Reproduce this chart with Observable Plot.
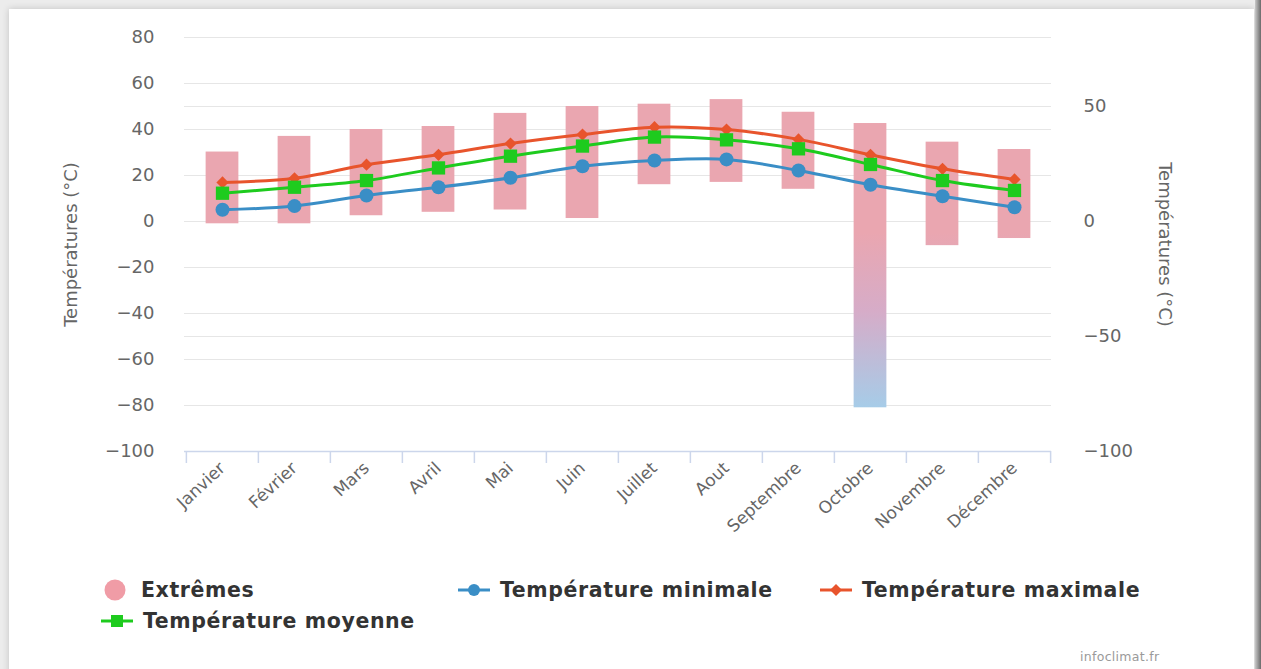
<!DOCTYPE html>
<html><head><meta charset="utf-8">
<script src="https://cdn.jsdelivr.net/npm/d3@7"></script>
<script src="https://cdn.jsdelivr.net/npm/@observablehq/plot@0.6"></script>
<style>
html,body{margin:0;padding:0;}
body{width:1261px;height:669px;overflow:hidden;background:#ececec;position:relative;font-family:"DejaVu Sans",sans-serif;}
#card{position:absolute;left:9px;top:9px;width:1245px;height:700px;background:#fff;box-shadow:0 0 7px rgba(0,0,0,0.18);}
#edge{position:absolute;right:0;top:0;width:6px;height:669px;background:linear-gradient(to right,#c8c8c8,#6a6a6a);}
#chart{position:absolute;left:0;top:0;}
.leg{position:absolute;font-weight:bold;font-size:20.5px;color:#333;letter-spacing:0.6px;white-space:nowrap;line-height:20px;}
.sym{position:absolute;}
#caption{position:absolute;left:1080px;top:649px;font-size:12.5px;color:#9a9a9a;letter-spacing:0.3px;}
</style>
</head><body>
<div id="card"></div>
<div id="edge"></div>
<div id="chart"></div>
<div id="legend"></div>
<div id="caption">infoclimat.fr</div>
<script>
const months = ["Janvier","Février","Mars","Avril","Mai","Juin","Juillet","Aout","Septembre","Octobre","Novembre","Décembre"];
const extremesLow  = [-1, -1, 2.5, 4, 5, 1.3, 16, 17, 14, -81, -10.5, -7.4];
const extremesHigh = [30.2, 37, 40, 41.3, 47, 50, 51, 53, 47.5, 42.6, 34.5, 31.3];
const tempMin = [5.1, 6.7, 11.3, 14.9, 19, 24, 26.5, 27, 22.2, 16, 11, 6.2];
const tempMax = [17, 18.8, 24.7, 29, 33.9, 37.8, 41, 40, 35.7, 29, 22.9, 18.3];
const tempMoy = [12.3, 14.9, 17.8, 23.3, 28.4, 32.8, 36.7, 35.5, 31.6, 24.8, 17.8, 13.5];
const leftTicks = [-100, -80, -60, -40, -20, 0, 20, 40, 60, 80];
const rightTicks = [-100, -50, 0, 50];
const axisTitle = "Températures (°C)";
const seriesNames = ["Extrêmes", "Température minimale", "Température maximale", "Température moyenne"];

const colMin = "#3a8ec6", colMax = "#e8542c", colMoy = "#1ecb1e";
const pink = "rgb(234,166,176)", blue = "rgb(166,204,232)";

const rows = months.map((m, i) => ({month: m, lo: extremesLow[i], hi: extremesHigh[i], min: tempMin[i], max: tempMax[i], moy: tempMoy[i]}));

const W = 1261, H = 560, ML = 184, MR = 1261 - 1051, MT = 37, MB = H - 451;
const bw = (W - ML - MR) / months.length;
const barInset = (bw - 33) / 2;

const plot = Plot.plot({
  width: W, height: H,
  marginLeft: ML, marginRight: MR, marginTop: MT, marginBottom: MB,
  style: {fontFamily: "DejaVu Sans", background: "transparent", color: "#666"},
  x: {type: "band", domain: months, padding: 0},
  y: {domain: [-100, 80]},
  marks: [
    Plot.gridY(leftTicks, {stroke: "#e6e6e6", strokeOpacity: 1}),
    Plot.gridY(rightTicks, {stroke: "#e6e6e6", strokeOpacity: 1}),
    Plot.barY(rows, {x: "month", y1: "lo", y2: "hi", fill: "url(#extGrad)", insetLeft: barInset, insetRight: barInset}),
    Plot.line(rows, {x: "month", y: "min", stroke: colMin, strokeWidth: 3, curve: "catmull-rom"}),
    Plot.dot(rows, {x: "month", y: "min", fill: colMin, r: 7, symbol: "circle"}),
    Plot.line(rows, {x: "month", y: "max", stroke: colMax, strokeWidth: 3, curve: "catmull-rom"}),
    Plot.dot(rows, {x: "month", y: "max", fill: colMax, r: 5.5, symbol: "diamond2"}),
    Plot.line(rows, {x: "month", y: "moy", stroke: colMoy, strokeWidth: 3, curve: "catmull-rom"}),
    Plot.dot(rows, {x: "month", y: "moy", fill: colMoy, r: 7.5, symbol: "square"}),
    Plot.ruleY([-100], {stroke: "#ccd6eb", strokeWidth: 1.5}),
    Plot.ruleX(months, {x: d => d, y1: -100, y2: -100, insetBottom: -12, dx: -bw / 2, stroke: "#ccd6eb", strokeWidth: 1.5}),
    Plot.ruleX([months[months.length - 1]], {x: d => d, y1: -100, y2: -100, insetBottom: -12, dx: bw / 2, stroke: "#ccd6eb", strokeWidth: 1.5}),
    Plot.axisY(leftTicks, {anchor: "left", tickSize: 0, tickPadding: 30, fontSize: 18, fill: "#666",
      label: axisTitle, labelAnchor: "center", labelArrow: "none", labelOffset: 120}),
    Plot.axisY(rightTicks, {anchor: "right", tickSize: 0, tickPadding: 32, fontSize: 18, fill: "#666", label: null}),
    Plot.text([axisTitle], {frameAnchor: "right", rotate: 90, dx: 113, textAnchor: "middle", lineAnchor: "middle", fontSize: 18, fill: "#666"}),
    Plot.axisX({tickSize: 0, tickRotate: -43, tickPadding: 14, fontSize: 17, fill: "#666", label: null})
  ]
});

// gradient for the extremes bars (pink above, bluish for deep negatives)
const ys = plot.scale("y");
const ns = "http://www.w3.org/2000/svg";
const defs = document.createElementNS(ns, "defs");
const grad = document.createElementNS(ns, "linearGradient");
grad.setAttribute("id", "extGrad");
grad.setAttribute("gradientUnits", "userSpaceOnUse");
grad.setAttribute("x1", 0); grad.setAttribute("x2", 0);
grad.setAttribute("y1", ys.apply(-5)); grad.setAttribute("y2", ys.apply(-81));
[[0, pink], [0.45, "rgb(214,172,200)"], [1, blue]].forEach(([o, c]) => {
  const s = document.createElementNS(ns, "stop");
  s.setAttribute("offset", o); s.setAttribute("stop-color", c);
  grad.appendChild(s);
});
defs.appendChild(grad);
plot.insertBefore(defs, plot.firstChild);
document.getElementById("chart").appendChild(plot);

// legend
const legend = document.getElementById("legend");
function addSym(x, y, svg) {
  const d = document.createElement("div");
  d.className = "sym"; d.style.left = x + "px"; d.style.top = y + "px";
  d.innerHTML = svg; legend.appendChild(d);
}
function addText(x, y, t) {
  const d = document.createElement("div");
  d.className = "leg"; d.style.left = x + "px"; d.style.top = y + "px";
  d.textContent = t; legend.appendChild(d);
}
addSym(104, 579, `<svg width="22" height="22"><circle cx="11" cy="11" r="10.5" fill="rgb(240,156,166)"/></svg>`);
addText(141, 580, seriesNames[0]);
addSym(456, 580, `<svg width="36" height="20"><line x1="2" x2="34" y1="10" y2="10" stroke="${colMin}" stroke-width="3"/><circle cx="18" cy="10" r="6" fill="${colMin}"/></svg>`);
addText(500, 580, seriesNames[1]);
addSym(818, 580, `<svg width="36" height="20"><line x1="2" x2="34" y1="10" y2="10" stroke="${colMax}" stroke-width="3"/><path d="M18,4L24,10L18,16L12,10Z" fill="${colMax}"/></svg>`);
addText(862, 580, seriesNames[2]);
addSym(99, 611, `<svg width="36" height="20"><line x1="2" x2="34" y1="10" y2="10" stroke="${colMoy}" stroke-width="3"/><rect x="12" y="4" width="12" height="12" fill="${colMoy}"/></svg>`);
addText(143, 611, seriesNames[3]);
</script>
</body></html>
